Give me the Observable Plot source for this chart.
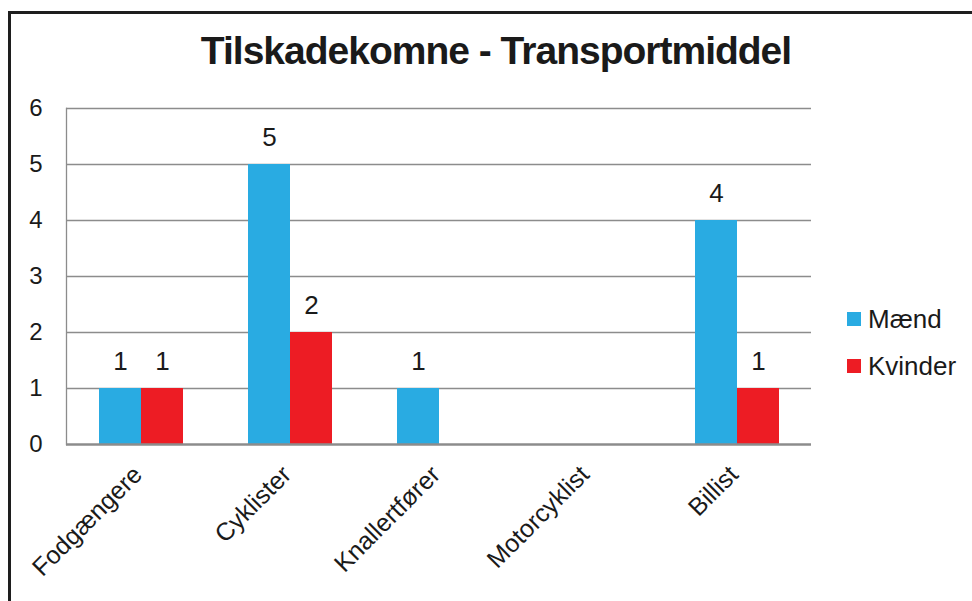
<!DOCTYPE html>
<html>
<head>
<meta charset="utf-8">
<script src="https://cdn.jsdelivr.net/npm/d3@7"></script>
<script src="https://cdn.jsdelivr.net/npm/@observablehq/plot@0.6"></script>
<style>
  body { margin: 0; background: #fff; }
  #wrap { position: relative; width: 972px; height: 601px; overflow: hidden; font-family: "Liberation Sans", Arial, sans-serif; background: #fff; }
  #border { position: absolute; left: 8px; top: 11px; width: 1100px; height: 800px; border: 3px solid #1e1e1e; box-sizing: border-box; }
  #title { position: absolute; left: 0; top: 29px; width: 992px; text-align: center; font-weight: bold; font-size: 39px; letter-spacing: -1px; line-height: 44px; color: #1a1a1a; }
  #chart { position: absolute; left: 0; top: 0; }
  #legend { position: absolute; left: 847px; top: 304px; font-size: 26px; color: #1a1a1a; }
  .item { display: flex; align-items: center; height: 30px; margin-bottom: 17px; }
  .sw { width: 14px; height: 14px; margin-right: 7px; }
</style>
</head>
<body>
<div id="wrap">
  <div id="border"></div>
  <div id="chart"></div>
  <div id="title"></div>
  <div id="legend"></div>
</div>
<script>
const titleText = "Tilskadekomne - Transportmiddel";
const categories = ["Fodgængere", "Cyklister", "Knallertfører", "Motorcyklist", "Billist"];
const series = ["Mænd", "Kvinder"];
const maend = [1, 5, 1, 0, 4];
const kvinder = [1, 2, 0, 0, 1];
const colors = ["#29ABE2", "#ED1C24"];
const yTicks = [0, 1, 2, 3, 4, 5, 6];

const data = [];
categories.forEach((c, i) => {
  data.push({cat: c, sex: series[0], value: maend[i]});
  data.push({cat: c, sex: series[1], value: kvinder[i]});
});

document.getElementById("title").textContent = titleText;

const plot = Plot.plot({
  width: 972,
  height: 601,
  marginTop: 108,
  marginBottom: 157,
  marginLeft: 66,
  marginRight: 161,
  style: {fontFamily: "Liberation Sans, Arial, sans-serif", color: "#1a1a1a", background: "transparent"},
  fx: {domain: categories, paddingInner: 0, paddingOuter: 0},
  x: {domain: series, paddingInner: 0, paddingOuter: 0.757, axis: null},
  y: {domain: [0, 6]},
  color: {domain: series, range: colors},
  marks: [
    Plot.ruleY(yTicks.filter(t => t > 0), {stroke: "#8c8c8c", strokeWidth: 1.3}),
    Plot.frame({anchor: "left", facetAnchor: "left", stroke: "#8c8c8c", strokeWidth: 1.3}),
    Plot.barY(data, {fx: "cat", x: "sex", y: "value", fill: "sex", inset: 0}),
    Plot.ruleY([0], {stroke: "#8c8c8c", strokeWidth: 2.5}),
    Plot.text(data, {fx: "cat", x: "sex", y: "value", text: d => String(d.value), filter: d => d.value > 0, dy: -27, fontSize: 26, fill: "#1a1a1a"}),
    Plot.axisY({ticks: yTicks, tickSize: 0, tickPadding: 24, fontSize: 24, label: null, tickFormat: d => String(d)}),
    Plot.axisFx({anchor: "bottom", tickRotate: -45, tickSize: 0, tickPadding: 26, dx: -3, fontSize: 25, label: null})
  ]
});
document.getElementById("chart").appendChild(plot);

const legend = document.getElementById("legend");
series.forEach((s, i) => {
  const item = document.createElement("div");
  item.className = "item";
  const sw = document.createElement("div");
  sw.className = "sw";
  sw.style.background = colors[i];
  const tx = document.createElement("span");
  tx.textContent = s;
  item.appendChild(sw);
  item.appendChild(tx);
  legend.appendChild(item);
});
</script>
</body>
</html>
